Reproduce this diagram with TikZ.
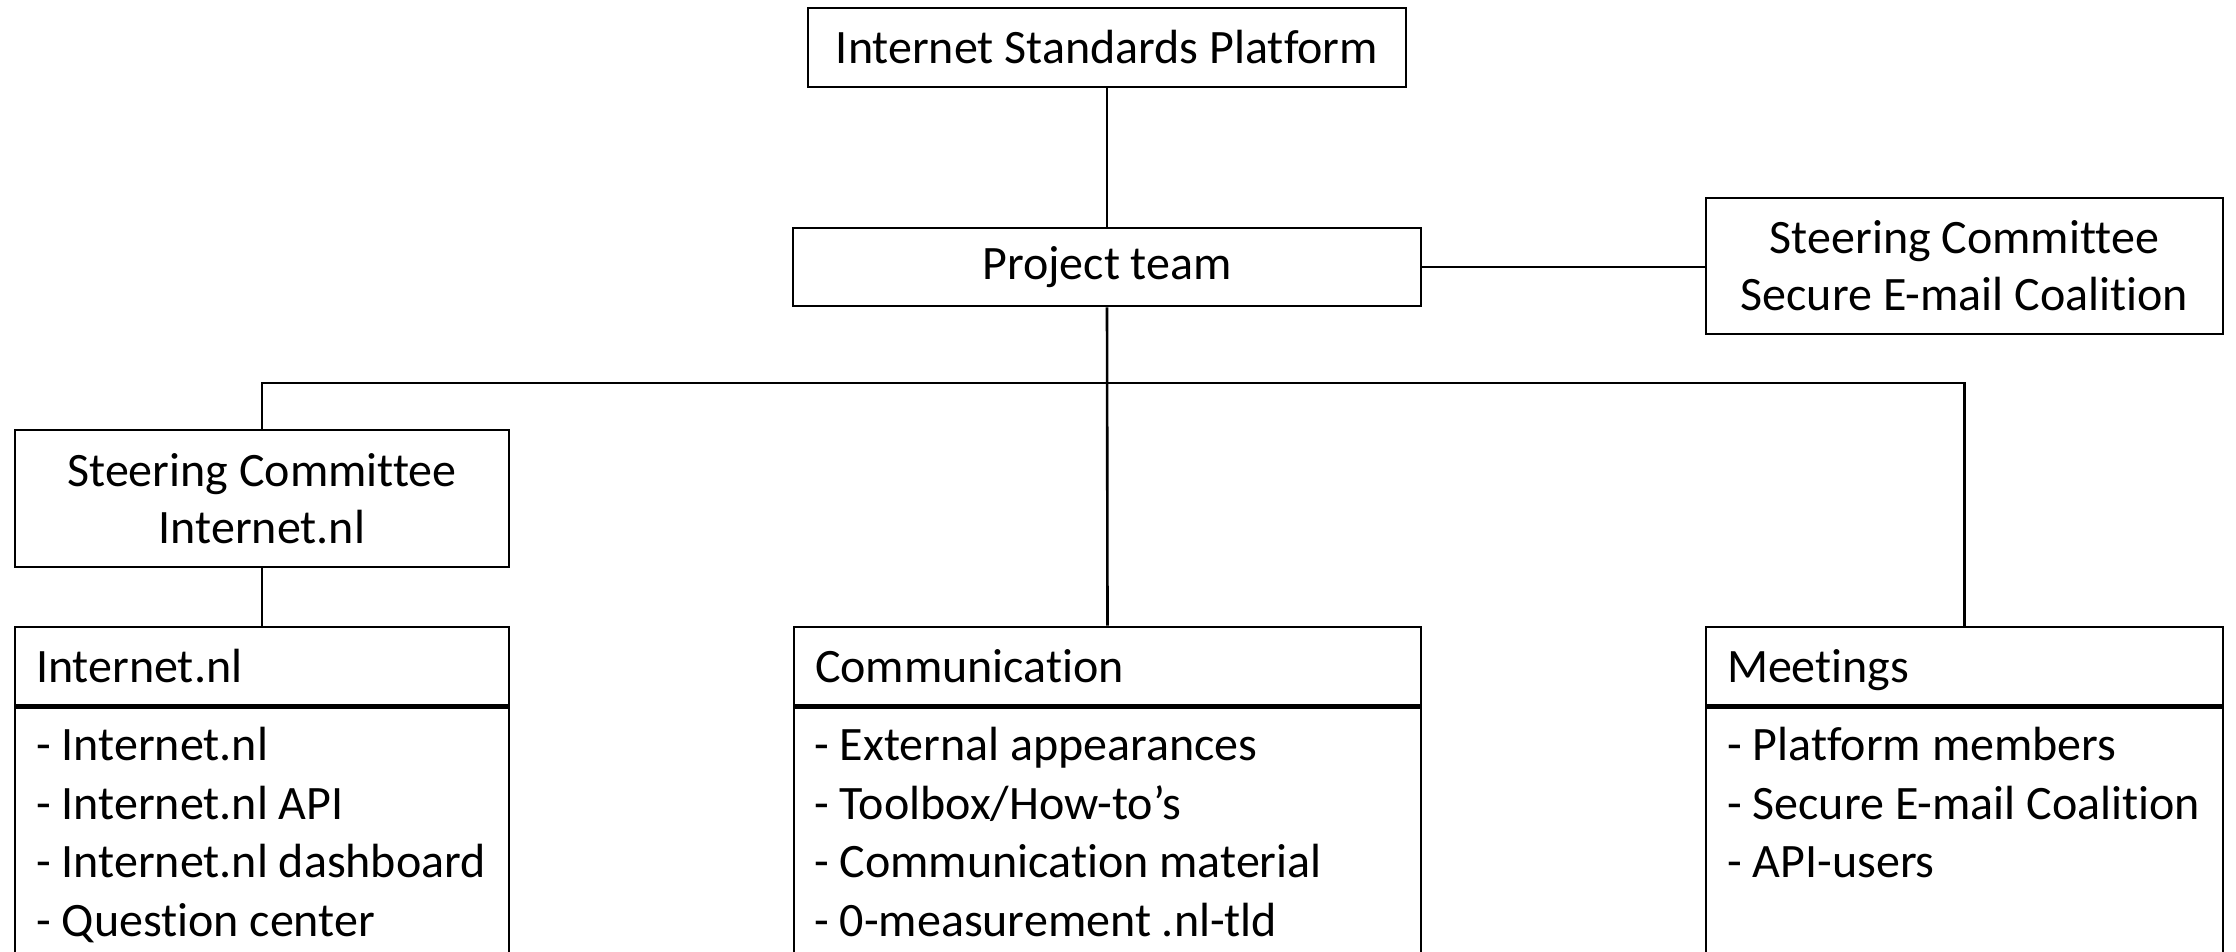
\documentclass[tikz,border=0pt]{standalone}
\usepackage{fontspec}
\setmainfont[Ligatures={NoCommon}]{Carlito}
\begin{document}
\begin{tikzpicture}[x=1pt,y=-1pt,
  every node/.style={font=\fontsize{48}{57}\selectfont},
  box/.style={draw, line width=2.6pt, rectangle, inner sep=0pt, align=center},
  hdr/.style={draw, line width=2.6pt, rectangle, inner xsep=21pt, inner ysep=0pt, minimum height=78pt, text depth=0pt, align=left},
  lst/.style={inner sep=0pt, align=left, anchor=north west, font=\fontsize{48}{58.5}\selectfont},
  conn/.style={line width=2.6pt}]
\useasboundingbox (0,0) rectangle (2236,951);
\begin{scope}
\clip (0,0) rectangle (2236,951);
% top
\node[box, minimum width=598pt, minimum height=79pt] (isp) at (1107,47.5) {Internet Standards Platform};
\node[box, minimum width=628pt, minimum height=78pt] (pt) at (1107,267) {Project team};
\node[box, minimum width=517pt, minimum height=136pt] (sec) at (1964.5,266) {Steering Committee\\Secure E-mail Coalition};
\node[box, minimum width=494pt, minimum height=137pt] (lsc) at (262,498.5) {Steering Committee\\Internet.nl};
% headers
\node[hdr, text width=452pt] (inh) at (262,666) {Internet.nl};
\node[hdr, text width=585pt] (comh) at (1107.5,666) {Communication};
\node[hdr, text width=475pt] (meeth) at (1964.5,666) {Meetings};
% bodies
\node[box, minimum width=494pt, minimum height=275pt, anchor=north] (inb) at (inh.south) {};
\node[box, minimum width=627pt, minimum height=275pt, anchor=north] (comb) at (comh.south) {};
\node[box, minimum width=517pt, minimum height=275pt, anchor=north] (meetb) at (meeth.south) {};
\node[lst] (inl) at (36,727) {- Internet.nl\\- Internet.nl API\\- Internet.nl dashboard\\- Question center};
\node[lst] (coml) at (814,727) {- External appearances\\- Toolbox/How-to’s\\- Communication material\\- 0-measurement .nl-tld};
\node[lst] (meetl) at (1727,727) {- Platform members\\- Secure E-mail Coalition\\- API-users};
% connectors
\coordinate (bus) at (1107,383);
\draw[conn] (isp.south) -- (pt.north);
\draw[conn] (pt.east) -- (pt.east -| sec.west);
\draw[conn] (pt.south) -- (comh.north);
\draw[conn] (lsc.north) -- (lsc.north |- bus) -- (meeth.north |- bus) -- (meeth.north);
\draw[conn] (lsc.south) -- (inh.north);
\end{scope}
\end{tikzpicture}
\end{document}
